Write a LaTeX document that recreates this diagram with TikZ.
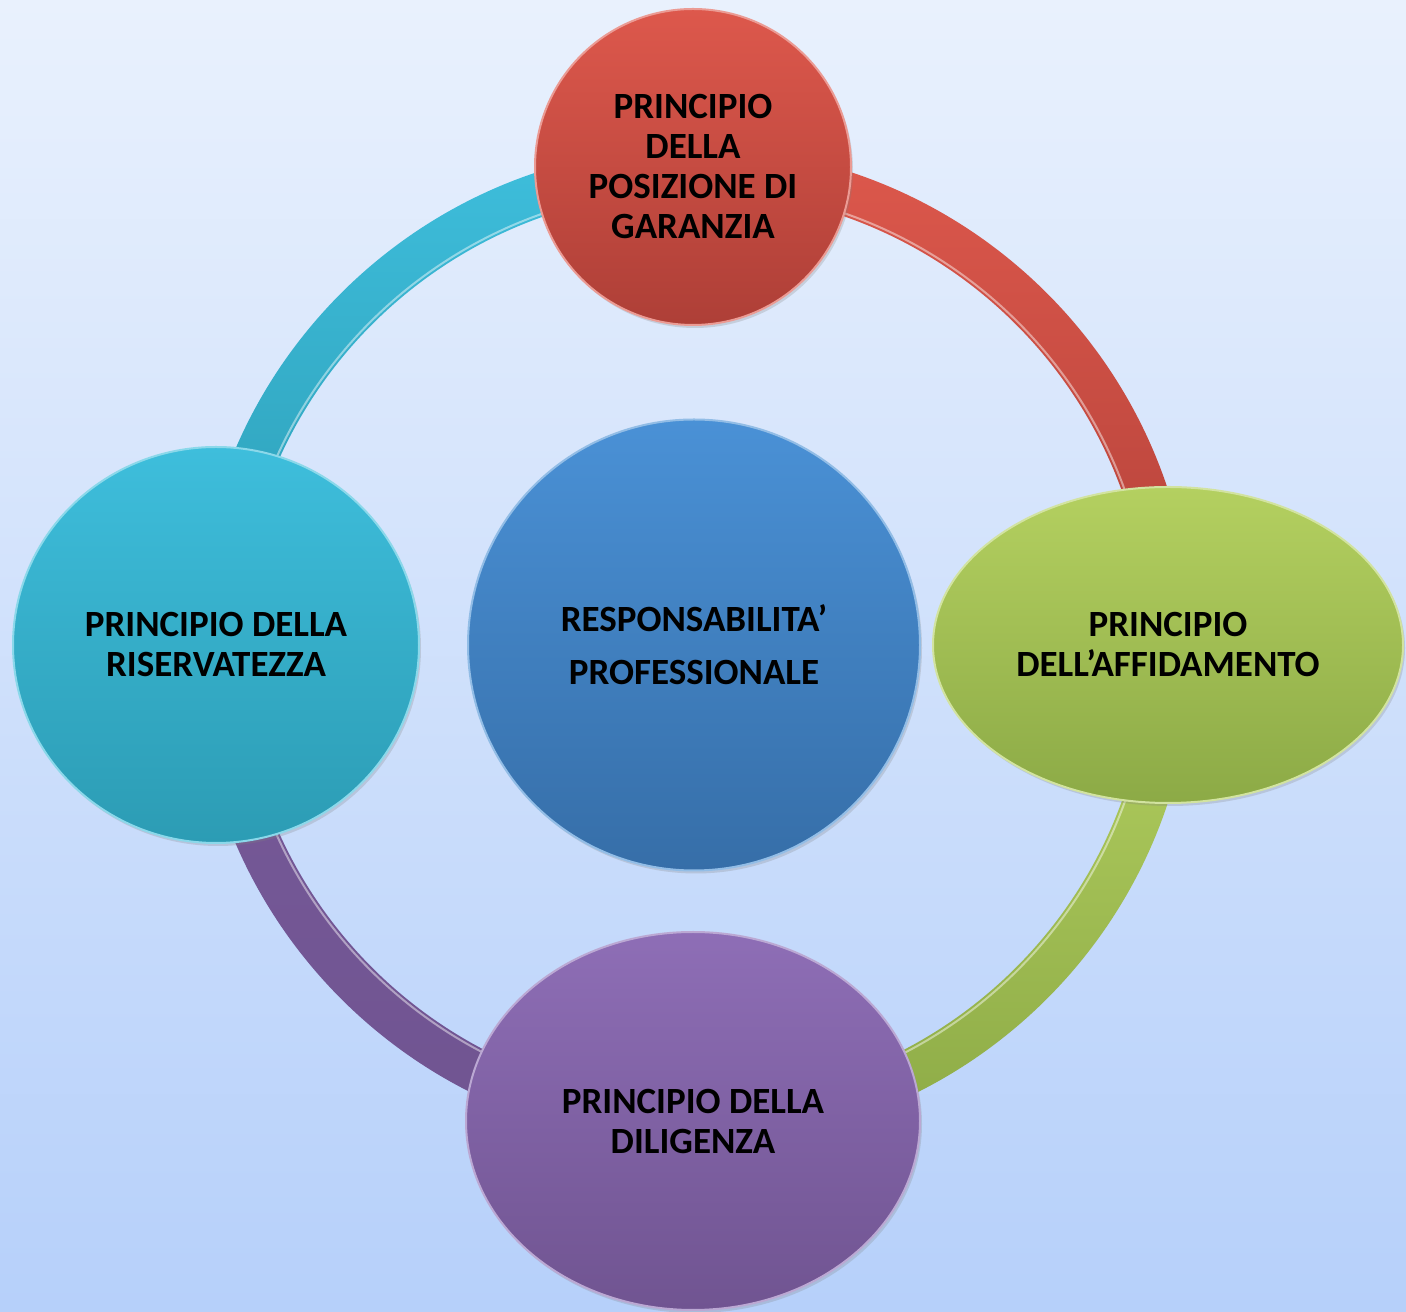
\documentclass[tikz,border=0pt]{standalone}
\usepackage{fontspec}
\setmainfont{Carlito}
\usetikzlibrary{shapes.geometric,shadows}
\definecolor{bgtop}{RGB}{233,241,253}
\definecolor{bgbot}{RGB}{182,208,250}
\definecolor{redT}{RGB}{221,88,76}
\definecolor{redB}{RGB}{174,63,55}
\definecolor{grnT}{RGB}{180,208,96}
\definecolor{grnB}{RGB}{140,170,70}
\definecolor{purT}{RGB}{142,110,182}
\definecolor{purB}{RGB}{112,84,145}
\definecolor{cyaT}{RGB}{62,190,220}
\definecolor{cyaB}{RGB}{44,156,180}
\definecolor{bluT}{RGB}{74,145,214}
\definecolor{bluB}{RGB}{54,110,168}
\pgfdeclarelayer{backdrop}
\pgfdeclarelayer{ringlayer}
\pgfsetlayers{backdrop,ringlayer,main}
\tikzset{
  orb/.style={ellipse, inner sep=0pt, align=center, text=black,
    font=\fontsize{37}{40}\selectfont\bfseries,
    line width=2pt,
    drop shadow={shadow xshift=2pt, shadow yshift=-3pt, opacity=0.25}},
  gloss/.style={white, opacity=0.45, line width=2pt}
}
\begin{document}
\begin{tikzpicture}[x=1pt,y=1pt]
\begin{pgfonlayer}{backdrop}
  \shade[top color=bgtop, bottom color=bgbot] (0,0) rectangle (1406,1312);
\end{pgfonlayer}
\useasboundingbox (0,0) rectangle (1406,1312);
\coordinate (c) at (694,666);

\node[orb, minimum width=316pt, minimum height=316pt, top color=redT, bottom color=redB, draw=redT!60!white]
  (top) at (693,1145) {PRINCIPIO\\DELLA\\POSIZIONE DI\\GARANZIA};
\node[orb, minimum width=470pt, minimum height=316pt, top color=grnT, bottom color=grnB, draw=grnT!60!white]
  (right) at (1168,667) {PRINCIPIO\\DELL’AFFIDAMENTO};
\node[orb, minimum width=454pt, minimum height=378pt, top color=purT, bottom color=purB, draw=purT!60!white]
  (bottom) at (693,191) {PRINCIPIO DELLA\\DILIGENZA};
\node[orb, minimum width=406pt, minimum height=396pt, top color=cyaT, bottom color=cyaB, draw=cyaT!60!white]
  (left) at (216,667) {PRINCIPIO DELLA\\RISERVATEZZA};
\node[orb, minimum width=452pt, minimum height=451pt, top color=bluT, bottom color=bluB, draw=bluT!60!white,
  font=\fontsize{37}{53}\selectfont\bfseries]
  (center) at (694,667) {RESPONSABILITA’\\PROFESSIONALE};

\begin{pgfonlayer}{ringlayer}
  % red: top -> right
  \shade[top color=redT, bottom color=redB!90!redT]
    ([shift={(90:499)}]c) arc[start angle=90, end angle=0, radius=499]
    -- ([shift={(0:455)}]c) arc[start angle=0, end angle=90, radius=455] -- cycle;
  % green: right -> bottom
  \shade[top color=grnT, bottom color=grnB]
    ([shift={(0:499)}]c) arc[start angle=0, end angle=-90, radius=499]
    -- ([shift={(-90:455)}]c) arc[start angle=-90, end angle=0, radius=455] -- cycle;
  % purple: bottom -> left
  \shade[top color=purB!80!purT, bottom color=purB]
    ([shift={(270:499)}]c) arc[start angle=270, end angle=180, radius=499]
    -- ([shift={(180:455)}]c) arc[start angle=180, end angle=270, radius=455] -- cycle;
  % cyan: left -> top
  \shade[top color=cyaT, bottom color=cyaB]
    ([shift={(180:499)}]c) arc[start angle=180, end angle=90, radius=499]
    -- ([shift={(90:455)}]c) arc[start angle=90, end angle=180, radius=455] -- cycle;
  % gloss on inner edges
  \draw[gloss] ([shift={(0:458)}]c) arc[start angle=0, end angle=360, radius=458];
\end{pgfonlayer}
\end{tikzpicture}
\end{document}
